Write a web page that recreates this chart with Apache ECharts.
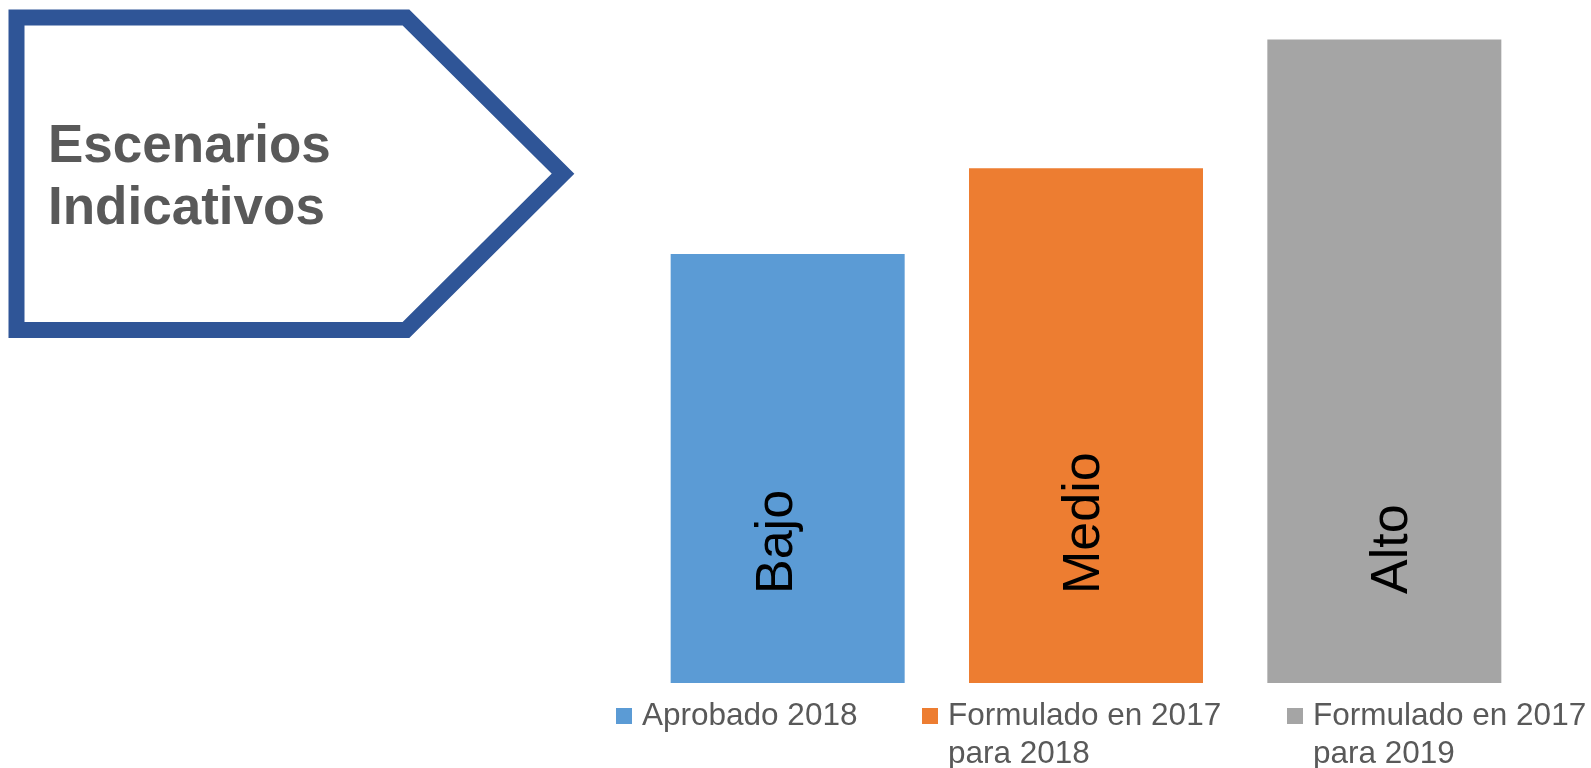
<!DOCTYPE html>
<html>
<head>
<meta charset="utf-8">
<script src="https://cdn.jsdelivr.net/npm/echarts@6/dist/echarts.min.js"></script>
<style>
html,body{margin:0;padding:0;background:#fff;}
#chart{width:1591px;height:768px;}
</style>
</head>
<body>
<div id="chart"></div>
<script>
// Data
const categories = ['Bajo', 'Medio', 'Alto'];
const seriesNames = ['Aprobado 2018', 'Formulado en 2017\npara 2018', 'Formulado en 2017\npara 2019'];
const values = [10, 12, 15];
const titleLines = ['Escenarios', 'Indicativos'];

// Styles / layout
const colors = ['#5B9BD5', '#ED7D31', '#A5A5A5'];
const labelShiftX = [-10, -1, 8];
const FONT = "'Liberation Sans', Arial, sans-serif";

const series = seriesNames.map((name, i) => ({
  name: name,
  type: 'bar',
  stack: 'total',
  barWidth: 234,
  itemStyle: { color: colors[i] },
  label: {
    show: true,
    position: 'insideBottom',
    distance: 89,
    rotate: 90,
    align: 'left',
    verticalAlign: 'middle',
    // offset is in the rotated frame: second component moves across the bar
    offset: [0, labelShiftX[i]],
    formatter: '{b}',
    color: '#000',
    fontSize: 52,
    fontFamily: FONT
  },
  data: categories.map((c, j) => (j === i ? values[i] : '-'))
}));

const legendPos = [
  { left: 616, top: 697 },
  { left: 922, top: 659 },
  { left: 1287, top: 659 }
];

const legends = seriesNames.map((name, i) => ({
  orient: 'horizontal',
  padding: 0,
  icon: 'rect',
  itemWidth: 16,
  itemHeight: 16,
  selectedMode: false,
  data: [name],
  left: legendPos[i].left,
  top: legendPos[i].top,
  // multi-line names get a leading empty line so the first line aligns with the marker
  formatter: (n) => (n.indexOf('\n') >= 0 ? '\n' + n : n),
  textStyle: { color: '#595959', fontSize: 31.5, lineHeight: 38, fontFamily: FONT, padding: [0, 0, 0, 5] }
}));

const chart = echarts.init(document.getElementById('chart'), null, { renderer: 'canvas' });
chart.setOption({
  backgroundColor: '#ffffff',
  animation: false,
  grid: { left: 638.5, right: 57.5, top: 39.6, bottom: 85, containLabel: false },
  xAxis: {
    type: 'category',
    data: categories,
    show: false
  },
  yAxis: {
    type: 'value',
    min: 0,
    max: 15,
    show: false
  },
  legend: legends,
  series: series,
  graphic: [
    {
      type: 'polygon',
      shape: { points: [[16.5, 17.5], [406, 17.5], [563, 173.7], [406, 330], [16.5, 330]] },
      style: { fill: '#ffffff', stroke: '#2F5597', lineWidth: 16, lineJoin: 'miter', miterLimit: 10 },
      z: 1
    },
    {
      type: 'text',
      x: 48, y: 147,
      style: { text: titleLines[0], fill: '#595959', font: 'bold 53px ' + FONT, verticalAlign: 'middle', align: 'left' },
      z: 2
    },
    {
      type: 'text',
      x: 48, y: 209.5,
      style: { text: titleLines[1], fill: '#595959', font: 'bold 53px ' + FONT, verticalAlign: 'middle', align: 'left' },
      z: 2
    }
  ]
});
</script>
</body>
</html>
